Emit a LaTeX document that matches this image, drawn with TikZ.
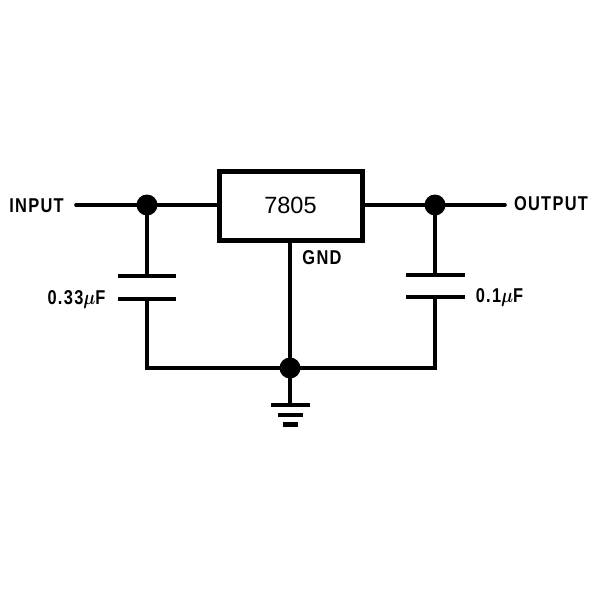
\documentclass[tikz,border=0pt]{standalone}
\usepackage{fontspec}
\setmainfont{Liberation Sans}
\newfontfamily\pinfont[LetterSpace=8]{Liberation Sans Bold}
\usetikzlibrary{positioning}
\tikzset{
	wire/.style={line width=3.6pt,line cap=round,line join=miter},
	plate/.style={line width=4.2pt},
	junction/.style={circle,fill=black,inner sep=0pt,minimum size=21pt},
	pin/.style={font=\pinfont\boldmath\fontsize{20}{20}\selectfont,xscale=.82,inner sep=0pt},
}
\begin{document}
\begin{tikzpicture}[x=1pt,y=-1pt]
		\useasboundingbox (0,0) rectangle (600,600);
		\node[draw,line width=5pt,minimum width=143pt,minimum height=69pt,inner sep=0pt,font=\fontsize{23.5}{24}\selectfont] (reg) at (290.5,205.5) {7805};
		
		\node[junction] (jin) at (147,205) {};
		\node[junction] (jout) at (435,205) {};
		\node[junction] (jgnd) at (290,368) {};
		
		\node[pin] (input) at (36.5,206) {INPUT};
		\node[pin] (output) at (551,204) {OUTPUT};
		\node[pin] (gndpin) at (322,258) {GND};
		\node[pin] (cinval) at (76.5,300) {0.33$\mu$F};
		\node[pin] (coutval) at (499.5,298) {0.1$\mu$F};
		
		\coordinate (infree) at (76,205);
		\coordinate (outfree) at (505,205);
		\coordinate (cintop) at (147,276);
		\coordinate (cinbot) at (147,299);
		\coordinate (couttop) at (435,275);
		\coordinate (coutbot) at (435,297);
		\coordinate (gnd1) at (290,405);
		\coordinate (gnd2) at (290,415);
		\coordinate (gnd3) at (290,424.5);
		
		\draw[wire] (infree)--(jin)--(reg.west|-jin);
		\draw[wire] (reg.east|-jout)--(jout)--(outfree);
		\draw[wire] (jin)--(cintop);
		\draw[wire] (jout)--(couttop);
		\draw[wire] (reg.south-|jgnd)--(jgnd)--(gnd1);
		\draw[wire] (cinbot)--(cinbot|-jgnd)--(jgnd)--(coutbot|-jgnd)--(coutbot);
		
		\draw[plate] ([xshift=-29pt]cintop)--([xshift=29pt]cintop);
		\draw[plate] ([xshift=-29pt]cinbot)--([xshift=29pt]cinbot);
		\draw[plate] ([xshift=-29pt]couttop)--([xshift=30pt]couttop);
		\draw[plate] ([xshift=-29pt]coutbot)--([xshift=30pt]coutbot);
		
		\draw[plate] ([xshift=-19pt]gnd1)--([xshift=20pt]gnd1);
		\draw[plate] ([xshift=-12pt]gnd2)--([xshift=13pt]gnd2);
		\draw[plate] ([xshift=-7pt]gnd3)--([xshift=8pt]gnd3);
	\end{tikzpicture}
\end{document}
